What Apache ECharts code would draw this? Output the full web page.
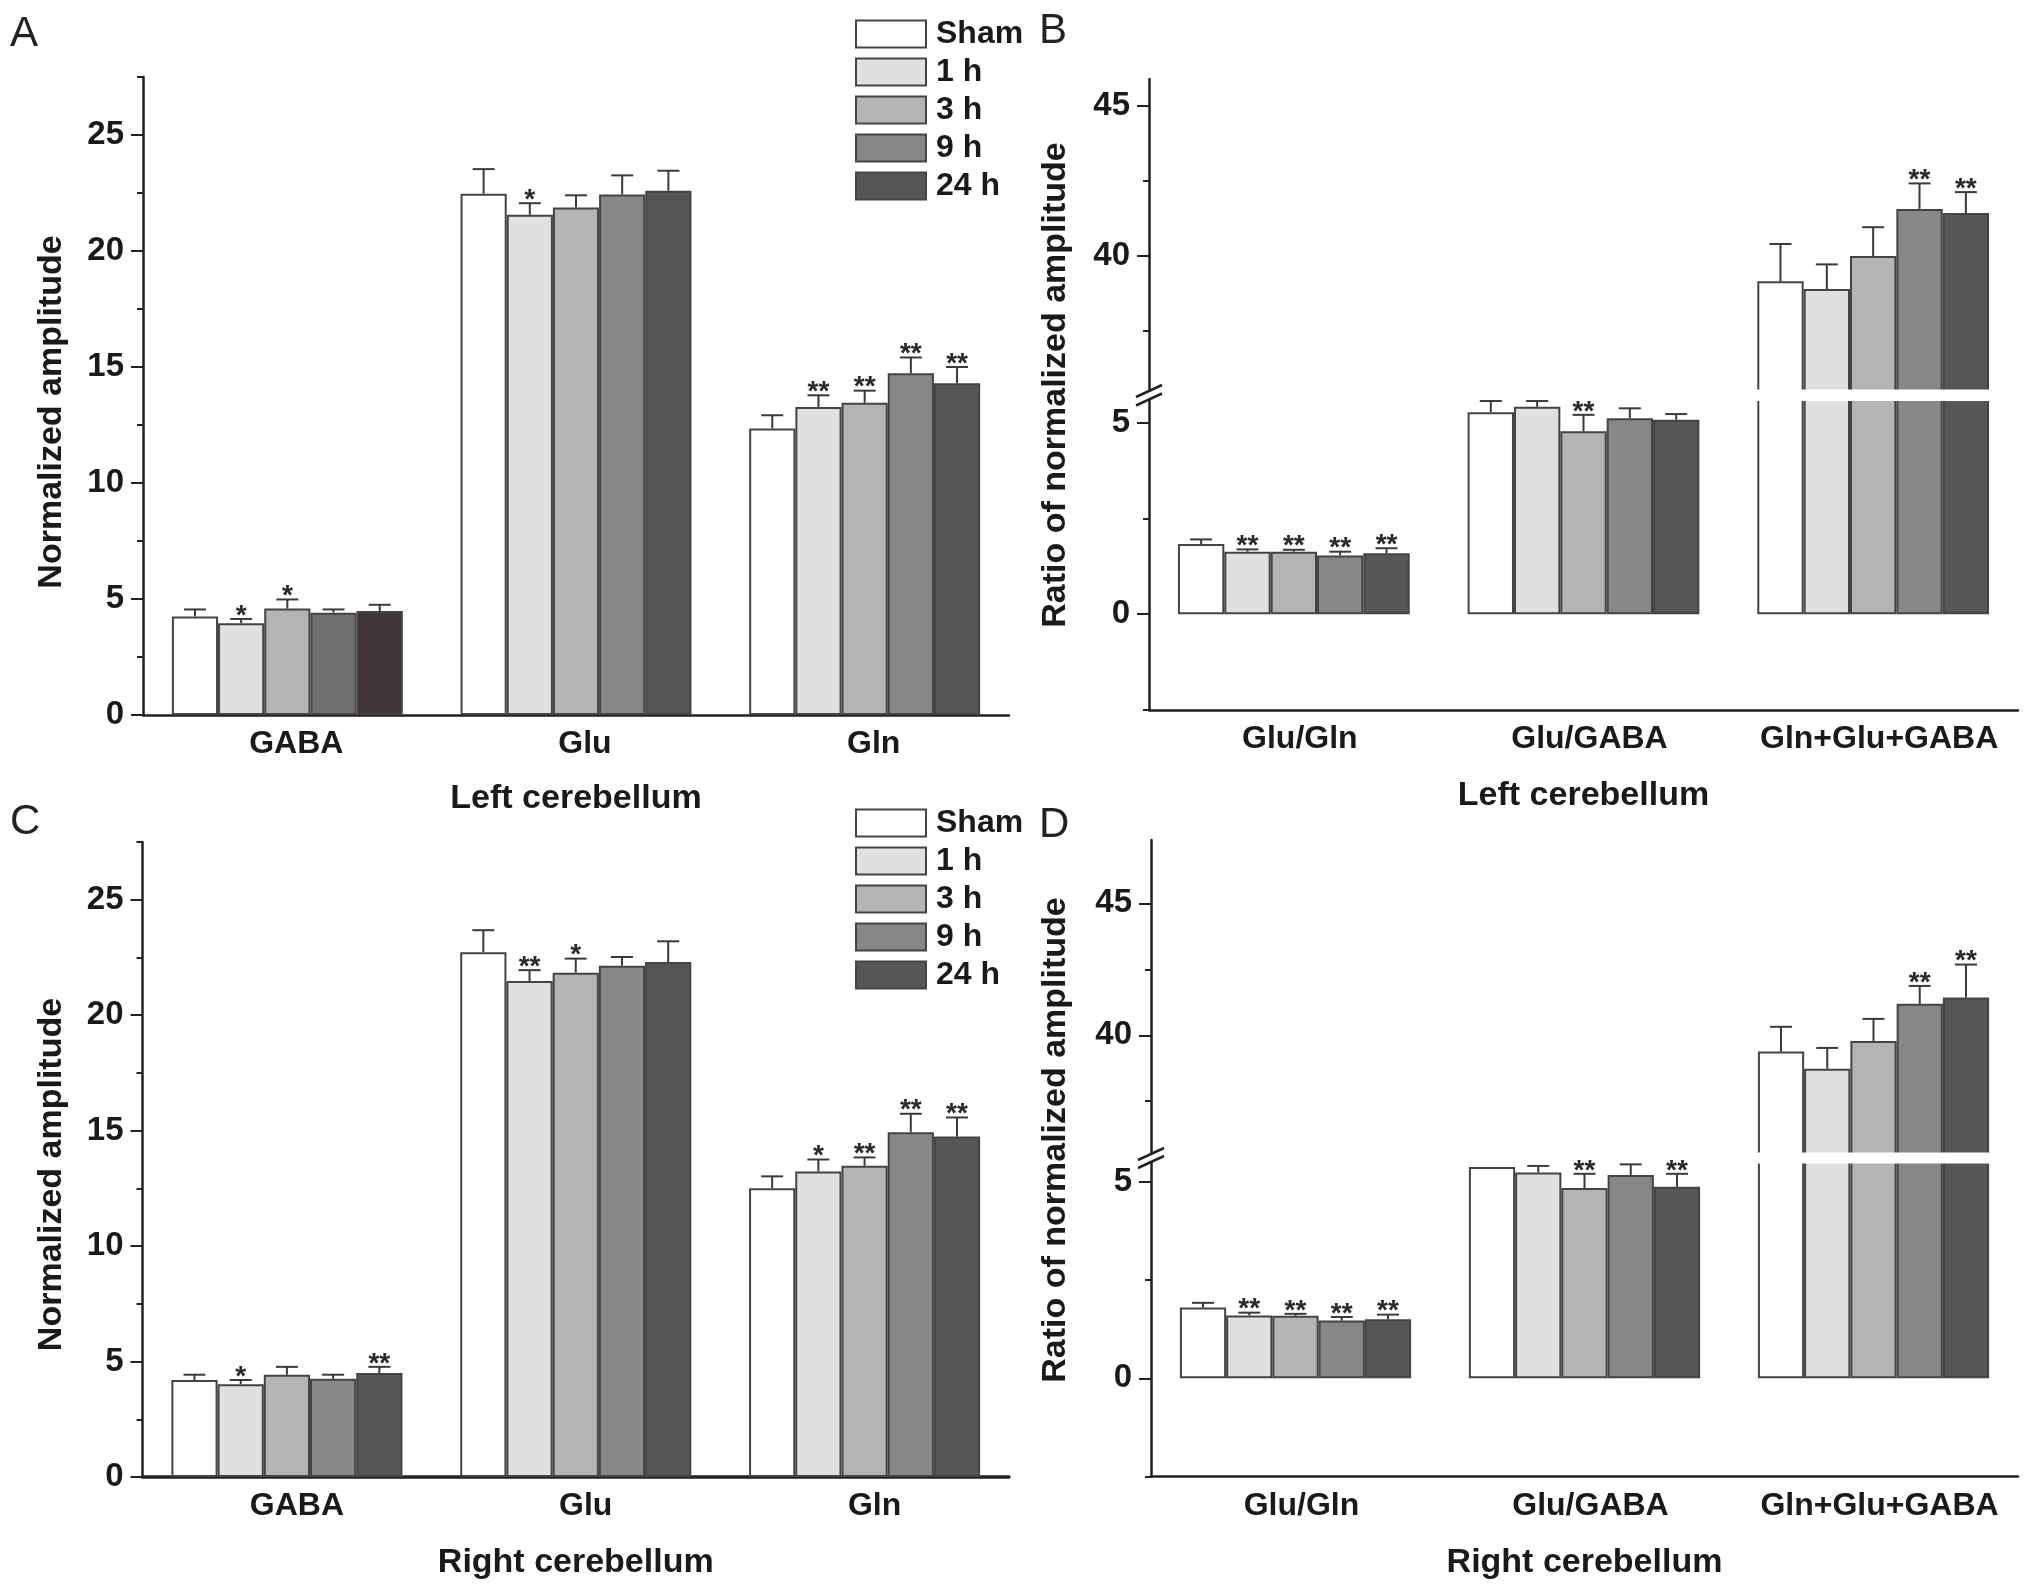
<!DOCTYPE html>
<html>
<head>
<meta charset="utf-8">
<script src="https://cdn.jsdelivr.net/npm/echarts@6/dist/echarts.min.js"></script>
<style>html,body{margin:0;padding:0;background:#fff}#c{width:2031px;height:1591px}</style>
</head>
<body>
<div id="c"></div>
<script>
// ---------------- DATA ----------------
const timePoints = ['Sham', '1 h', '3 h', '9 h', '24 h'];
const metaboliteLabels = ['GABA', 'Glu', 'Gln'];
const ratioLabels = ['Glu/Gln', 'Glu/GABA', 'Gln+Glu+GABA'];

const ampMajorTicks = [0, 5, 10, 15, 20, 25];
const ampMinorTicks = [2.5, 7.5, 12.5, 17.5, 22.5, 27.5];
const ratioLowMajorTicks = [0, 5];
const ratioLowMinorTicks = [-2.5, 2.5];
const ratioHighMajorTicks = [40, 45];
const ratioHighMinorTicks = [37.5, 42.5];

// Panel A: left cerebellum, normalized amplitude [GABA, Glu, Gln] per time point
const leftAmpMean = [
  [4.25, 22.47, 12.35],
  [3.96, 21.56, 13.28],
  [4.59, 21.88, 13.46],
  [4.41, 22.44, 14.73],
  [4.48, 22.60, 14.30]
];
const leftAmpErrTop = [
  [4.55, 23.53, 12.92],
  [4.14, 22.06, 13.78],
  [4.98, 22.40, 13.98],
  [4.55, 23.26, 15.41],
  [4.75, 23.46, 15.00]
];
const leftAmpStars = [
  ['', '', ''],
  ['*', '*', '**'],
  ['*', '', '**'],
  ['', '', '**'],
  ['', '', '**']
];

// Panel B: left cerebellum ratios [Glu/Gln, Glu/GABA, Gln+Glu+GABA]
const leftRatioMean = [
  [1.83, 5.27, 39.16],
  [1.63, 5.41, 38.90],
  [1.63, 4.77, 40.00],
  [1.53, 5.11, 41.57],
  [1.59, 5.07, 41.43]
];
const leftRatioErrTop = [
  [1.95, 5.56, 40.40],
  [1.69, 5.56, 39.72],
  [1.68, 5.20, 40.96],
  [1.63, 5.37, 42.42],
  [1.72, 5.22, 42.13]
];
const leftRatioStars = [
  ['', '', ''],
  ['**', '', ''],
  ['**', '**', ''],
  ['**', '', '**'],
  ['**', '', '**']
];

// Panel C: right cerebellum, normalized amplitude
const rightAmpMean = [
  [4.20, 22.73, 12.50],
  [4.02, 21.48, 13.23],
  [4.43, 21.84, 13.48],
  [4.25, 22.14, 14.93],
  [4.50, 22.30, 14.75]
];
const rightAmpErrTop = [
  [4.43, 23.68, 13.02],
  [4.20, 21.95, 13.75],
  [4.77, 22.45, 13.84],
  [4.43, 22.52, 15.73],
  [4.77, 23.20, 15.57]
];
const rightAmpStars = [
  ['', '', ''],
  ['*', '**', '*'],
  ['', '*', '**'],
  ['', '', '**'],
  ['**', '', '**']
];

// Panel D: right cerebellum ratios
const rightRatioMean = [
  [1.80, 5.37, 39.38],
  [1.60, 5.23, 38.73],
  [1.59, 4.84, 39.78],
  [1.47, 5.17, 41.19],
  [1.50, 4.87, 41.43]
];
const rightRatioErrTop = [
  [1.92, null, 40.32],
  [1.67, 5.40, 39.52],
  [1.64, 5.20, 40.62],
  [1.56, 5.44, 41.87],
  [1.62, 5.20, 42.68]
];
const rightRatioStars = [
  ['', '', ''],
  ['**', '', ''],
  ['**', '**', ''],
  ['**', '', '**'],
  ['**', '**', '**']
];

// ---------------- STYLE ----------------
const FONT = '"Liberation Sans", Arial, Helvetica, sans-serif';
const TXT = '#1a1a1a';
const AX = '#222';
const barColors = ['#ffffff', '#e0e0e0', '#b4b4b4', '#878787', '#565656'];
const barBorder = '#444';

const chart = echarts.init(document.getElementById('c'), null, {renderer: 'canvas'});

const grids = [
  {left: 143, top: 77, width: 866, height: 638},        // 0 A
  {left: 1149, top: 79, width: 869, height: 312},       // 1 B upper
  {left: 1149, top: 399.5, width: 869, height: 310.5},  // 2 B lower
  {left: 142.5, top: 842, width: 866.5, height: 635},   // 3 C
  {left: 1151, top: 840, width: 867, height: 314},      // 4 D upper
  {left: 1151, top: 1162, width: 867, height: 314.7}    // 5 D lower
].map(g => Object.assign({outerBoundsMode: 'none', containLabel: false}, g));

function xAxisFor(gi, cats, show, name, nameGap, labelPad, lineW) {
  return {
    type: 'category', gridIndex: gi, data: cats, show: show,
    axisLine: {onZero: false, lineStyle: {color: AX, width: lineW || 2.5}},
    axisTick: {show: false},
    axisLabel: {interval: 0, fontSize: 32, fontWeight: 'bold', color: TXT, fontFamily: FONT, margin: 13,
      padding: [0, 0, 0, labelPad || 0]},
    splitLine: {show: false},
    name: name || '', nameLocation: 'middle', nameGap: nameGap || 67,
    nameTextStyle: {fontSize: 34, fontWeight: 'bold', color: TXT, fontFamily: FONT}
  };
}
function yAxesFor(gi, min, max, major, minor, name, namePad) {
  return [{
    type: 'value', gridIndex: gi, min: min, max: max, position: 'left',
    axisLine: {show: true, onZero: false, lineStyle: {color: AX, width: 2.5}},
    axisTick: {show: true, length: 12, customValues: major, lineStyle: {color: AX, width: 2}},
    axisLabel: {customValues: major, margin: 19, fontSize: 33, fontWeight: 'bold', color: TXT, fontFamily: FONT},
    splitLine: {show: false},
    name: name || '', nameLocation: 'middle', nameGap: 74,
    nameTextStyle: {fontSize: 34, fontWeight: 'bold', color: TXT, fontFamily: FONT, padding: namePad || 0}
  }, {
    type: 'value', gridIndex: gi, min: min, max: max, position: 'left', offset: 0,
    axisLine: {show: false},
    axisTick: {show: true, length: 6, customValues: minor, lineStyle: {color: AX, width: 2}},
    axisLabel: {show: false},
    splitLine: {show: false}
  }];
}

const xAxes = [
  xAxisFor(0, metaboliteLabels, true, 'Left cerebellum', 67, 18),
  xAxisFor(1, ratioLabels, false),
  xAxisFor(2, ratioLabels, true, 'Left cerebellum', 69, 12),
  xAxisFor(3, metaboliteLabels, true, 'Right cerebellum', 69, 20, 3.5),
  xAxisFor(4, ratioLabels, false),
  xAxisFor(5, ratioLabels, true, 'Right cerebellum', 69, 12)
];

const yAxes = [].concat(
  yAxesFor(0, 0, 27.5, ampMajorTicks, ampMinorTicks, 'Normalized amplitude', [0, 32, 0, 0]),
  yAxesFor(1, 35.5, 45.9, ratioHighMajorTicks, ratioHighMinorTicks),
  yAxesFor(2, -2.5, 5.6, ratioLowMajorTicks, ratioLowMinorTicks),
  yAxesFor(3, 0, 27.5, ampMajorTicks, ampMinorTicks, 'Normalized amplitude', [0, 30, 0, 0]),
  yAxesFor(4, 35.5, 47.4, ratioHighMajorTicks, ratioHighMinorTicks),
  yAxesFor(5, -2.5, 5.5, ratioLowMajorTicks, ratioLowMinorTicks)
);

const series = [];
function addBars(gi, means, hideCats, overrides) {
  for (let t = 0; t < 5; t++) {
    series.push({
      type: 'bar', name: timePoints[t], xAxisIndex: gi, yAxisIndex: gi * 2,
      barGap: '0%', barCategoryGap: '20%', clip: true,
      data: means[t].map((v, c) => {
        if (hideCats.indexOf(c) >= 0) return '-';
        const ov = overrides && overrides[t] && overrides[t][c];
        return ov ? {value: v, itemStyle: {color: ov}} : v;
      }),
      itemStyle: {color: barColors[t], borderColor: barBorder, borderWidth: 2},
      emphasis: {disabled: true}, silent: true, z: 2
    });
  }
}
function addErrors(gi, means, tops, stars, cats) {
  const data = [], labels = [];
  for (let t = 0; t < 5; t++) {
    for (const c of cats) {
      if (tops[t][c] == null) continue;
      data.push([c, t, means[t][c], tops[t][c]]);
      labels.push(stars[t][c]);
    }
  }
  series.push({
    type: 'custom', xAxisIndex: gi, yAxisIndex: gi * 2, data: data,
    encode: {x: 0, y: 3}, z: 5, silent: true, clip: false,
    renderItem: function (params, api) {
      const c = api.value(0), t = api.value(1), m = api.value(2), e = api.value(3);
      const band = api.size([1, 0])[0];
      const bw = band * 0.8 / 5;
      const p0 = api.coord([c, m]);
      const p1 = api.coord([c, e]);
      const x = p0[0] + (t - 2) * bw;
      const children = [
        {type: 'line', shape: {x1: x, y1: p0[1], x2: x, y2: p1[1]}, style: {stroke: '#3a3a3a', lineWidth: 2}},
        {type: 'line', shape: {x1: x - 11, y1: p1[1], x2: x + 11, y2: p1[1]}, style: {stroke: '#3a3a3a', lineWidth: 2}}
      ];
      const s = labels[params.dataIndex];
      if (s) {
        children.push({type: 'text', x: x, y: p1[1] - 3,
          style: {text: s, fill: '#2a2a2a', font: 'bold 28px ' + FONT, align: 'center', verticalAlign: 'middle'}});
      }
      return {type: 'group', children: children};
    }
  });
}

// A
addBars(0, leftAmpMean, [], [null, null, null, ['#6f6f6f'], ['#3d3538']]);
addErrors(0, leftAmpMean, leftAmpErrTop, leftAmpStars, [0, 1, 2]);
// B
addBars(1, leftRatioMean, [0, 1]);
addBars(2, leftRatioMean, []);
addErrors(1, leftRatioMean, leftRatioErrTop, leftRatioStars, [2]);
addErrors(2, leftRatioMean, leftRatioErrTop, leftRatioStars, [0, 1]);
// C
addBars(3, rightAmpMean, []);
addErrors(3, rightAmpMean, rightAmpErrTop, rightAmpStars, [0, 1, 2]);
// D
addBars(4, rightRatioMean, [0, 1]);
addBars(5, rightRatioMean, []);
addErrors(4, rightRatioMean, rightRatioErrTop, rightRatioStars, [2]);
addErrors(5, rightRatioMean, rightRatioErrTop, rightRatioStars, [0, 1]);

function legendAt(top) {
  return {
    data: timePoints, orient: 'vertical', left: 855, top: top, padding: 0,
    itemWidth: 70, itemHeight: 27, itemGap: 6, icon: 'rect', selectedMode: false,
    itemStyle: {borderColor: '#444', borderWidth: 2},
    textStyle: {fontSize: 32, lineHeight: 27, fontWeight: 'bold', color: TXT, fontFamily: FONT, padding: [0, 0, 0, 5]}
  };
}

chart.setOption({
  animation: false,
  backgroundColor: '#fff',
  textStyle: {fontFamily: FONT},
  grid: grids,
  xAxis: xAxes,
  yAxis: yAxes,
  legend: [legendAt(18), legendAt(807)],
  series: series
});

// ---------------- decorations: axis break marks, panel letters, titles ----------------
function breakDecor(upGi, lowGi, upMin, lowMax) {
  const yUp = chart.convertToPixel({yAxisIndex: upGi * 2}, upMin);
  const yLow = chart.convertToPixel({yAxisIndex: lowGi * 2}, lowMax);
  const c0 = chart.convertToPixel({xAxisIndex: lowGi}, 0);
  const c1 = chart.convertToPixel({xAxisIndex: lowGi}, 1);
  const c2 = chart.convertToPixel({xAxisIndex: lowGi}, 2);
  const band = c1 - c0;
  const axisX = c0 - band / 2;
  const out = [];
  out.push({type: 'rect', z: 100, shape: {x: c2 - band * 0.4 - 3, y: yUp - 1.5, width: band * 0.8 + 6, height: (yLow - yUp) + 3},
    style: {fill: '#fff'}});
  out.push({type: 'rect', z: 99, shape: {x: axisX - 3, y: yUp + 1, width: 6, height: yLow - yUp - 2}, style: {fill: '#fff'}});
  [yUp, yLow].forEach(y => {
    out.push({type: 'line', z: 101, shape: {x1: axisX - 13, y1: y + 6, x2: axisX + 13, y2: y - 6},
      style: {stroke: AX, lineWidth: 2.5}});
  });
  return out;
}

function letter(t, x, y) {
  return {type: 'text', z: 100, x: x, y: y, style: {text: t, font: '42px ' + FONT, fill: '#222', align: 'left', verticalAlign: 'top'}};
}
function vTitle(t, x, y) {
  return {type: 'text', z: 100, x: x, y: y, rotation: Math.PI / 2,
    style: {text: t, font: 'bold 34px ' + FONT, fill: TXT, align: 'center', verticalAlign: 'middle'}};
}

chart.setOption({
  graphic: [].concat(
    breakDecor(1, 2, 35.5, 5.6),
    breakDecor(4, 5, 35.5, 5.5),
    [letter('A', 10, 13), letter('B', 1039, 10), letter('C', 10, 801), letter('D', 1039, 804),
     vTitle('Ratio of normalized amplitude', 1056, 385),
     vTitle('Ratio of normalized amplitude', 1056, 1140)]
  )
});
</script>
</body>
</html>
